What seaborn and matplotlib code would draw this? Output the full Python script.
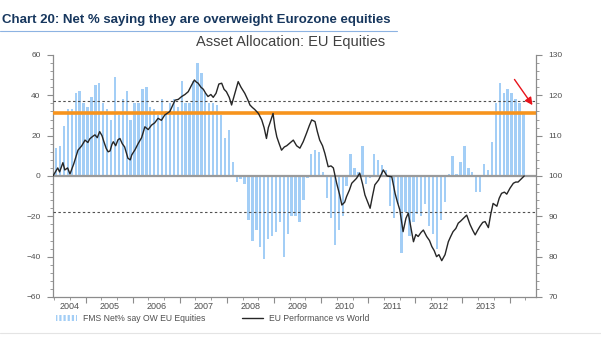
import numpy as np
import pandas as pd
import matplotlib
matplotlib.use("Agg")
import matplotlib.pyplot as plt
import seaborn as sns
from matplotlib.ticker import MultipleLocator, NullFormatter
from matplotlib.patches import Patch
from matplotlib.lines import Line2D

sns.set_theme(style="white")
plt.rcParams["font.family"] = ["Liberation Sans", "DejaVu Sans"]
plt.rcParams["hatch.linewidth"] = 1.6

# ---------------- data ----------------
title = "Chart 20: Net % saying they are overweight Eurozone equities"
subtitle = "Asset Allocation: EU Equities"
bar_label = "FMS Net% say OW EU Equities"
line_label = "EU Performance vs World"

bar_start = "2004-05"
fms_net_ow = [
    14, 15, 25, 33, 33, 41, 42, 36, 34, 39,
    45, 46, 36, 33, 28, 49, 30, 38, 42, 28,
    36, 36, 43, 44, 34, 33, 30, 38, 32, 36,
    38, 34, 47, 36, 36, 47, 56, 51, 41, 36,
    36, 35, 30, 19, 23, 7, -3, -1.5, -4, -22,
    -32, -27, -35, -41, -31, -30, -28, -23, -40, -29,
    -20, -20, -23, -12, -1, 11, 13, 12, 2, -11,
    -21, -34, -27, -20, -5, 11, 4, 2, 15, -4,
    -1, 11, 8, 5.5, 3, -15, -21, -14, -38, -18,
    -30, -23, -19, -20, -14, -25, -29, -36, -22, -13,
    1, 10, 1, 7, 15, 4, 2, -8, -8, 6,
    3, 17, 36, 46, 41, 43, 41, 38, 36, 31,
]

line_years = [
    2004.31, 2004.36, 2004.41, 2004.45, 2004.52, 2004.56, 2004.62, 2004.67, 2004.75, 2004.84,
    2004.92, 2004.99, 2005.05, 2005.09, 2005.15, 2005.20, 2005.25, 2005.30, 2005.35, 2005.39,
    2005.44, 2005.48, 2005.52, 2005.56, 2005.59, 2005.64, 2005.69, 2005.73, 2005.78, 2005.83,
    2005.90, 2005.95, 2005.98, 2006.05, 2006.12, 2006.19, 2006.26, 2006.33, 2006.40, 2006.47,
    2006.54, 2006.61, 2006.68, 2006.74, 2006.79, 2006.85, 2006.90, 2006.97, 2007.04, 2007.11,
    2007.18, 2007.25, 2007.31, 2007.35, 2007.39, 2007.45, 2007.50, 2007.55, 2007.60, 2007.66,
    2007.71, 2007.77, 2007.83, 2007.89, 2007.94, 2007.99, 2008.05, 2008.10, 2008.17, 2008.24,
    2008.30, 2008.38, 2008.44, 2008.49, 2008.54, 2008.59, 2008.67, 2008.74, 2008.79, 2008.84,
    2008.88, 2008.91, 2008.98, 2009.02, 2009.06, 2009.11, 2009.16, 2009.22, 2009.27, 2009.34,
    2009.41, 2009.48, 2009.55, 2009.62, 2009.69, 2009.75, 2009.80, 2009.87, 2009.92, 2009.97,
    2010.03, 2010.08, 2010.15, 2010.21, 2010.26, 2010.33, 2010.39, 2010.44, 2010.50, 2010.54,
    2010.60, 2010.65, 2010.75, 2010.82, 2010.88, 2010.93, 2010.99, 2011.04, 2011.09, 2011.14,
    2011.22, 2011.32, 2011.40, 2011.50, 2011.57, 2011.62, 2011.67, 2011.74, 2011.80, 2011.85,
    2011.91, 2011.96, 2012.01, 2012.06, 2012.12, 2012.17, 2012.24, 2012.30, 2012.35, 2012.40,
    2012.45, 2012.50, 2012.56, 2012.63, 2012.70, 2012.75, 2012.80, 2012.86, 2012.91, 2012.96,
    2013.02, 2013.09, 2013.16, 2013.22, 2013.27, 2013.32, 2013.37, 2013.43, 2013.48, 2013.55,
    2013.60, 2013.65, 2013.73, 2013.78, 2013.83, 2013.89, 2013.94, 2014.01, 2014.08, 2014.13,
    2014.18, 2014.25, 2014.31,
]
line_values = [
    100, 101, 102, 101, 103.3, 101.5, 102, 100.5, 103, 106.4,
    107.5, 108.9, 108.3, 109.2, 109.8, 110.2, 109.5, 111, 110, 108.5,
    106.8, 106, 106.2, 107.8, 108.5, 107.5, 109, 109.3, 108, 107.2,
    104.4, 104, 105.2, 106.5, 108.1, 109.5, 112.2, 111.5, 112.6, 113.2,
    114.3, 113.8, 115.1, 115.6, 116, 117.5, 118.8, 119, 119.7, 120.2,
    120.9, 122.5, 123.8, 123.3, 123, 122, 121.5, 120.5, 119.7, 120.2,
    119.5, 120.5, 122.8, 123, 121.5, 120.9, 119.5, 117.6, 120.5, 123.4,
    122, 120.5, 119, 117.6, 117, 116.5, 115.5, 113.9, 112, 109.3,
    112, 113, 115.5, 112, 109.7, 108, 106.4, 107.2, 107.5, 108.2,
    108.9, 107.5, 106.9, 108.5, 110.6, 112.5, 113.9, 113.5, 111, 108.9,
    107.5, 105.6, 102.3, 102.5, 102, 98.2, 95.5, 92.8, 93.5, 94.9,
    96.5, 98.2, 99.4, 100.7, 98, 95.3, 93.5, 92, 95, 97.8,
    99, 101.5, 100, 99.8, 95.7, 93.5, 91.6, 86.2, 89.5, 90.8,
    87, 83.7, 85.5, 85, 86, 86.6, 85, 84, 82.5, 81.5,
    80, 80.5, 79, 80.5, 83.7, 85, 86.2, 87, 88.3, 88.8,
    89.5, 90.3, 88, 86.5, 85.4, 86.5, 87.5, 88.5, 88.7, 87.2,
    90.5, 93.2, 92.5, 94.5, 95.7, 96, 95.5, 97, 98.2, 98.5,
    98.5, 99.3, 100,
]

current_level = 31
upper_band = 37
lower_band = -18
year_labels = ["2004", "2005", "2006", "2007", "2008", "2009", "2010", "2011", "2012", "2013"]

# ---------------- derived positions ----------------
months = pd.date_range(bar_start, periods=len(fms_net_ow), freq="MS")
bar_x = np.round(months.year + (months.month - 0.5) / 12.0, 6)

x_min, x_max = 2004.31, 2014.56

BAR_C = "#A3CEF6"
GREY = "#8C8C8C"
TXT = "#505050"

fig = plt.figure(figsize=(6.01, 3.39), dpi=100)
fig.patch.set_facecolor("white")
ax = fig.add_axes([0.0882, 0.1239, 0.8036, 0.7139])

sns.barplot(x=bar_x, y=fms_net_ow, native_scale=True, width=0.6, color=BAR_C,
            saturation=1, errorbar=None, ax=ax, zorder=1, linewidth=0, edgecolor="none")

ax.axhline(0, color="#9A9A9A", lw=1.6, zorder=3)
ax.axhline(upper_band, color="#505050", lw=0.8, ls=(0, (2.2, 2.2)), zorder=3)
ax.axhline(lower_band, color="#505050", lw=0.8, ls=(0, (2.2, 2.2)), zorder=3)
ax.axhline(current_level, color="#F7941D", lw=2.6, zorder=4)

ax.set_xlim(x_min, x_max)
ax.set_ylim(-60, 60)
ax.set_yticks(range(-60, 61, 20))
ax.yaxis.set_minor_locator(MultipleLocator(4))
ax.set_xticks(range(2005, 2015))
ax.xaxis.set_major_formatter(NullFormatter())
ax.xaxis.set_minor_locator(MultipleLocator(1 / 3))
ax.set_xlabel("")
ax.set_ylabel("")
ax.tick_params(axis="y", which="major", direction="out", length=4, width=0.8, color=GREY,
               labelsize=6, labelcolor=TXT, left=True, pad=5)
ax.tick_params(axis="y", which="minor", direction="out", length=2, width=0.6, color=GREY, left=True)
ax.tick_params(axis="x", which="major", direction="out", length=4, width=0.8, color=GREY, bottom=True)
ax.tick_params(axis="x", which="minor", direction="out", length=2, width=0.6, color=GREY, bottom=True)
for s in ["top", "right"]:
    ax.spines[s].set_visible(False)
for s in ["left", "bottom"]:
    ax.spines[s].set_color(GREY)
    ax.spines[s].set_linewidth(0.9)

label_pos = [(x_min + 2005) / 2] + [int(y) + 0.5 for y in year_labels[1:]]
sec = ax.secondary_xaxis("bottom")
sec.set_xticks(label_pos, labels=year_labels)
sec.tick_params(length=0, labelsize=6.5, labelcolor=TXT, pad=3.5)
sec.spines["bottom"].set_visible(False)

ax2 = ax.twinx()
sns.lineplot(x=line_years, y=line_values, ax=ax2, color="#262626", linewidth=1.0, zorder=5)
ax2.set_ylim(70, 130)
ax2.set_xlim(x_min, x_max)
ax2.set_yticks(range(70, 131, 10))
ax2.yaxis.set_minor_locator(MultipleLocator(2))
ax2.set_ylabel("")
ax2.tick_params(axis="y", which="major", direction="out", length=4, width=0.8, color=GREY,
                labelsize=6, labelcolor=TXT, right=True, pad=5)
ax2.tick_params(axis="y", which="minor", direction="out", length=2, width=0.6, color=GREY, right=True)
for s in ["top", "left", "bottom"]:
    ax2.spines[s].set_visible(False)
ax2.spines["right"].set_color(GREY)
ax2.spines["right"].set_linewidth(0.9)

ax2.annotate("", xy=(2014.52, 100 + 34 / 2), xytext=(2014.07, 100 + 49 / 2),
             arrowprops=dict(arrowstyle="-|>", color="#E8131B", lw=1.0, mutation_scale=11),
             annotation_clip=False, zorder=6)

fig.text(0.004, 1 - 20 / 339, title, fontsize=9.5, fontweight="bold", color="#17375E",
         va="center", ha="left")
fig.add_artist(Line2D([0.0, 0.66], [1 - 30.5 / 339] * 2, color="#8DB3E2", lw=0.8))
fig.text(0.483, 1 - 42 / 339, subtitle, fontsize=10.5, color="#404040", ha="center", va="center")

handles = [Patch(facecolor="white", edgecolor=BAR_C, hatch="||||", lw=0),
           Line2D([0], [0], color="#262626", lw=1.0)]
fig.legend(handles, [bar_label, line_label], ncol=2, loc="center left",
           bbox_to_anchor=(0.085, 1 - 318.5 / 339), frameon=False, fontsize=6.2,
           labelcolor=TXT, handlelength=2.4, handleheight=0.8, columnspacing=4.2, handletextpad=0.75,
           borderpad=0.1)

fig.add_artist(Line2D([0.0, 1.0], [1 - 333 / 339] * 2, color="#E4E4E4", lw=0.8))

fig.savefig("out.png", dpi=100, facecolor="white")
